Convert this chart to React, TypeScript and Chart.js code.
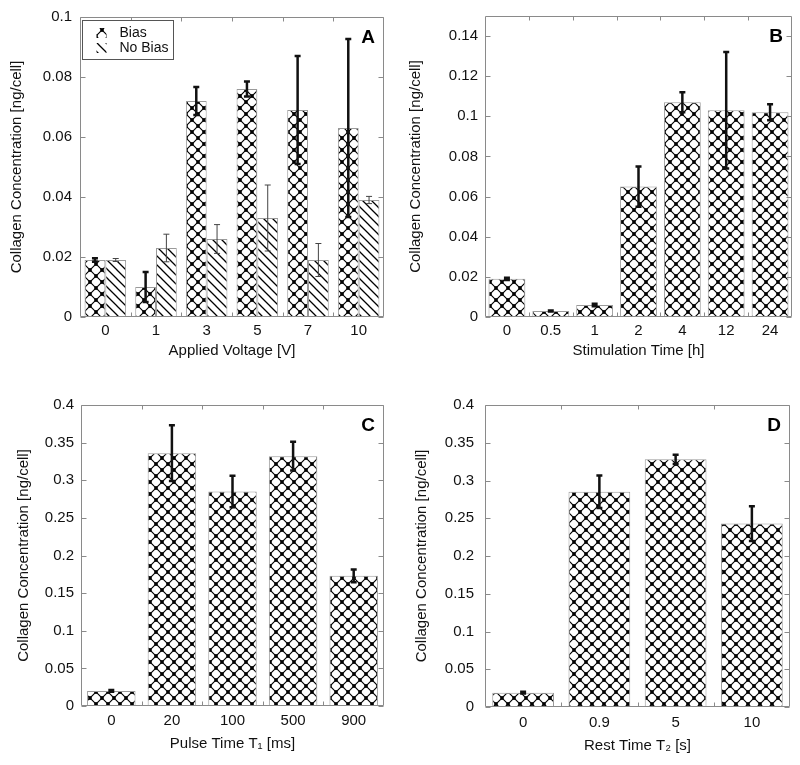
import React, { useEffect, useRef } from 'react';
import { Chart, registerables } from 'chart.js';

Chart.register(...registerables);

// ---------- data ----------
const voltageLabels = ['0', '1', '3', '5', '7', '10'];
const biasValues = [0.019, 0.010, 0.072, 0.076, 0.069, 0.063];
const biasErrors = [0.0006, 0.005, 0.0047, 0.0025, 0.018, 0.0297];
const noBiasValues = [0.019, 0.023, 0.026, 0.033, 0.019, 0.039];
const noBiasErrors = [0.0005, 0.0046, 0.0048, 0.011, 0.0055, 0.0012];

const stimulationLabels = ['0', '0.5', '1', '2', '4', '12', '24'];
const stimulationValues = [0.019, 0.003, 0.006, 0.065, 0.107, 0.103, 0.102];
const stimulationErrors = [0.0006, 0.0003, 0.0006, 0.010, 0.005, 0.029, 0.004];

const pulseLabels = ['0', '20', '100', '500', '900'];
const pulseValues = [0.020, 0.336, 0.285, 0.332, 0.173];
const pulseErrors = [0.0012, 0.037, 0.021, 0.019, 0.0085];

const restLabels = ['0', '0.9', '5', '10'];
const restValues = [0.019, 0.285, 0.328, 0.243];
const restErrors = [0.0012, 0.0215, 0.006, 0.023];

const ticksA = [0, 0.02, 0.04, 0.06, 0.08, 0.1];
const tickLabelsA = ['0', '0.02', '0.04', '0.06', '0.08', '0.1'];
const ticksB = [0, 0.02, 0.04, 0.06, 0.08, 0.1, 0.12, 0.14];
const tickLabelsB = ['0', '0.02', '0.04', '0.06', '0.08', '0.1', '0.12', '0.14'];
const ticksCD = [0, 0.05, 0.1, 0.15, 0.2, 0.25, 0.3, 0.35, 0.4];
const tickLabelsCD = ['0', '0.05', '0.1', '0.15', '0.2', '0.25', '0.3', '0.35', '0.4'];

const yTitle = 'Collagen Concentration [ng/cell]';

// ---------- helpers ----------
const FONT = '"Liberation Sans", Arial, Helvetica, sans-serif';
const TEXT = '#111111';

function crossTile(): HTMLCanvasElement {
  const c = document.createElement('canvas');
  c.width = 12; c.height = 12;
  const g = c.getContext('2d')!;
  g.fillStyle = '#ffffff';
  g.fillRect(0, 0, 12, 12);
  g.strokeStyle = '#000000';
  g.lineWidth = 1.2;
  g.beginPath();
  g.moveTo(-1, -1); g.lineTo(13, 13);
  g.moveTo(13, -1); g.lineTo(-1, 13);
  g.stroke();
  g.fillStyle = '#000000';
  const dots = [[0, 0], [12, 0], [0, 12], [12, 12], [6, 6]];
  dots.forEach(([x, y]) => {
    g.beginPath(); g.arc(x, y, 1.9, 0, Math.PI * 2); g.fill();
  });
  return c;
}

function hatchTile(): HTMLCanvasElement {
  const c = document.createElement('canvas');
  c.width = 9; c.height = 9;
  const g = c.getContext('2d')!;
  g.fillStyle = '#ffffff';
  g.fillRect(0, 0, 9, 9);
  g.strokeStyle = '#000000';
  g.lineWidth = 1.3;
  g.beginPath();
  g.moveTo(-1, -1); g.lineTo(10, 10);
  g.moveTo(-1, 8); g.lineTo(1, 10);
  g.moveTo(8, -1); g.lineTo(10, 1);
  g.stroke();
  return c;
}

type Series = {
  label: string;
  values: number[];
  errors: number[];
  pattern: 'cross' | 'hatch';
  thick: boolean;
};

type Geo = {
  left: number; top: number; w: number; h: number;
  yW: number; padR: number; padT: number; xH: number;
  yTickPad: number; yTitlePad: number; xTickPad: number; xTitlePadB: number;
};

type PanelProps = {
  geo: Geo;
  letter: string;
  labels: string[];
  series: Series[];
  yMax: number;
  yTicks: number[];
  yTickLabels: string[];
  xTitle: string;
  catPct: number;
  legend?: boolean;
};

function Panel(props: PanelProps) {
  const ref = useRef<HTMLCanvasElement | null>(null);

  useEffect(() => {
    const canvas = ref.current;
    if (!canvas) return;
    const ctx0 = canvas.getContext('2d')!;
    const patterns: Record<string, CanvasPattern> = {
      cross: ctx0.createPattern(crossTile(), 'repeat')!,
      hatch: ctx0.createPattern(hatchTile(), 'repeat')!,
    };
    const { geo } = props;

    const frameAndTicks = {
      id: 'frameAndTicks',
      afterDatasetsDraw(chart: any) {
        const ctx = chart.ctx;
        const { left, right, top, bottom } = chart.chartArea;
        const L = Math.round(left) + 0.5;
        const R = Math.round(right) - 0.5;
        const T = Math.round(top) + 0.5;
        const B = Math.round(bottom) - 0.5;
        ctx.save();
        ctx.strokeStyle = '#8a8a8a';
        ctx.lineWidth = 1;
        ctx.beginPath();
        ctx.rect(L, T, R - L, B - T);
        const ys = chart.scales.y;
        ys.ticks.forEach((t: any) => {
          const py = Math.round(ys.getPixelForValue(t.value)) + 0.5;
          ctx.moveTo(L, py); ctx.lineTo(L + 5, py);
          ctx.moveTo(R, py); ctx.lineTo(R - 5, py);
        });
        const xs = chart.scales.x;
        const n = props.labels.length;
        for (let i = 1; i < n; i++) {
          const px = Math.round((xs.getPixelForValue(i - 1) + xs.getPixelForValue(i)) / 2) + 0.5;
          ctx.moveTo(px, B); ctx.lineTo(px, B - 4);
          ctx.moveTo(px, T); ctx.lineTo(px, T + 4);
        }
        ctx.stroke();
        ctx.restore();
      },
    };

    const errorBars = {
      id: 'errorBars',
      afterDatasetsDraw(chart: any) {
        const ctx = chart.ctx;
        const ys = chart.scales.y;
        chart.data.datasets.forEach((ds: any, di: number) => {
          const meta = chart.getDatasetMeta(di);
          meta.data.forEach((el: any, i: number) => {
            const v = ds.data[i];
            const e = ds.errors[i];
            const yt = ys.getPixelForValue(v + e);
            const yb = ys.getPixelForValue(v - e);
            const cap = 3;
            ctx.save();
            ctx.strokeStyle = ds.errorColor;
            ctx.lineWidth = ds.errorWidth;
            ctx.beginPath();
            ctx.moveTo(el.x, yt); ctx.lineTo(el.x, yb);
            ctx.moveTo(el.x - cap, yt); ctx.lineTo(el.x + cap, yt);
            ctx.moveTo(el.x - cap, yb); ctx.lineTo(el.x + cap, yb);
            ctx.stroke();
            ctx.restore();
          });
        });
      },
    };

    const letterAndLegend = {
      id: 'letterAndLegend',
      afterDraw(chart: any) {
        const ctx = chart.ctx;
        const { right, top, left } = chart.chartArea;
        ctx.save();
        ctx.fillStyle = '#000000';
        ctx.font = `bold 19px ${FONT}`;
        ctx.textAlign = 'center';
        ctx.textBaseline = 'middle';
        ctx.fillText(props.letter, right - 16, top + 21);
        if (props.legend) {
          const bx = Math.round(left) + 2.5;
          const by = Math.round(top) + 3.5;
          ctx.fillStyle = '#ffffff';
          ctx.fillRect(bx, by, 91, 39);
          ctx.strokeStyle = '#555555';
          ctx.lineWidth = 1;
          ctx.strokeRect(bx, by, 91, 39);
          ctx.font = `14px ${FONT}`;
          ctx.textAlign = 'left';
          chart.data.datasets.forEach((ds: any, i: number) => {
            const cy = by + 12.5 + i * 15;
            ctx.fillStyle = ds.backgroundColor;
            ctx.fillRect(bx + 14, cy - 5, 10, 10);
            ctx.fillStyle = TEXT;
            ctx.fillText(ds.label, bx + 37, cy);
          });
        }
        ctx.restore();
      },
    };

    const chart = new Chart(canvas, {
      type: 'bar',
      data: {
        labels: props.labels,
        datasets: props.series.map((s) => ({
          label: s.label,
          data: s.values,
          errors: s.errors,
          errorWidth: s.thick ? 2.5 : 1,
          errorColor: s.thick ? '#111111' : '#444444',
          backgroundColor: patterns[s.pattern],
          borderColor: '#9a9a9a',
          borderWidth: 1,
          categoryPercentage: props.catPct,
          barPercentage: 1,
        })) as any,
      },
      options: {
        responsive: false,
        animation: false,
        devicePixelRatio: 1,
        layout: { padding: { left: 0, right: geo.padR, top: geo.padT, bottom: 0 } },
        plugins: {
          legend: { display: false },
          tooltip: { enabled: false },
        },
        scales: {
          x: {
            type: 'category',
            offset: true,
            grid: { display: false, drawTicks: false },
            border: { display: false },
            ticks: {
              color: TEXT,
              font: { family: FONT, size: 15 },
              padding: geo.xTickPad,
              maxRotation: 0,
              autoSkip: false,
            },
            title: {
              display: true,
              text: props.xTitle,
              color: TEXT,
              font: { family: FONT, size: 15 },
              padding: { top: 0, bottom: geo.xTitlePadB },
            },
            afterFit(scale: any) { scale.height = geo.xH; },
          },
          y: {
            type: 'linear',
            min: 0,
            max: props.yMax,
            grid: { display: false, drawTicks: false },
            border: { display: false },
            afterBuildTicks(scale: any) {
              scale.ticks = props.yTicks.map((v) => ({ value: v }));
            },
            ticks: {
              color: TEXT,
              font: { family: FONT, size: 15 },
              padding: geo.yTickPad,
              callback: (_v: any, i: number) => props.yTickLabels[i],
            },
            title: {
              display: true,
              text: yTitle,
              color: TEXT,
              font: { family: FONT, size: 15 },
              padding: { top: geo.yTitlePad, bottom: 0 },
            },
            afterFit(scale: any) { scale.width = geo.yW; },
          },
        },
      } as any,
      plugins: [errorBars, frameAndTicks, letterAndLegend],
    });
    return () => chart.destroy();
  }, []);

  const { geo } = props;
  return (
    <canvas
      ref={ref}
      width={geo.w}
      height={geo.h}
      style={{ position: 'absolute', left: geo.left, top: geo.top, width: geo.w, height: geo.h }}
    />
  );
}

const geoA: Geo = { left: 0, top: 0, w: 400, h: 380, yW: 80, padR: 16, padT: 13, xH: 63, yTickPad: 8, yTitlePad: 8, xTickPad: 5, xTitlePadB: 20 };
const geoB: Geo = { left: 400, top: 0, w: 400, h: 380, yW: 85, padR: 8, padT: 13, xH: 63, yTickPad: 7, yTitlePad: 7, xTickPad: 5, xTitlePadB: 20 };
const geoC: Geo = { left: 0, top: 380, w: 400, h: 385, yW: 81, padR: 16, padT: 25, xH: 59, yTickPad: 7, yTitlePad: 15, xTickPad: 6, xTitlePadB: 12 };
const geoD: Geo = { left: 400, top: 380, w: 400, h: 385, yW: 85, padR: 10, padT: 25, xH: 58, yTickPad: 11, yTitlePad: 13, xTickPad: 7, xTitlePadB: 10 };

export default function App() {
  return (
    <div style={{ position: 'absolute', left: 0, top: 0, width: 800, height: 765, background: '#ffffff' }}>
      <Panel
        geo={geoA}
        letter="A"
        labels={voltageLabels}
        series={[
          { label: 'Bias', values: biasValues, errors: biasErrors, pattern: 'cross', thick: true },
          { label: 'No Bias', values: noBiasValues, errors: noBiasErrors, pattern: 'hatch', thick: false },
        ]}
        yMax={0.1}
        yTicks={ticksA}
        yTickLabels={tickLabelsA}
        xTitle="Applied Voltage [V]"
        catPct={0.82}
        legend
      />
      <Panel
        geo={geoB}
        letter="B"
        labels={stimulationLabels}
        series={[{ label: 'Bias', values: stimulationValues, errors: stimulationErrors, pattern: 'cross', thick: true }]}
        yMax={0.15}
        yTicks={ticksB}
        yTickLabels={tickLabelsB}
        xTitle="Stimulation Time [h]"
        catPct={0.84}
      />
      <Panel
        geo={geoC}
        letter="C"
        labels={pulseLabels}
        series={[{ label: 'Bias', values: pulseValues, errors: pulseErrors, pattern: 'cross', thick: true }]}
        yMax={0.4}
        yTicks={ticksCD}
        yTickLabels={tickLabelsCD}
        xTitle="Pulse Time T₁ [ms]"
        catPct={0.8}
      />
      <Panel
        geo={geoD}
        letter="D"
        labels={restLabels}
        series={[{ label: 'Bias', values: restValues, errors: restErrors, pattern: 'cross', thick: true }]}
        yMax={0.4}
        yTicks={ticksCD}
        yTickLabels={tickLabelsCD}
        xTitle="Rest Time T₂ [s]"
        catPct={0.81}
      />
    </div>
  );
}
